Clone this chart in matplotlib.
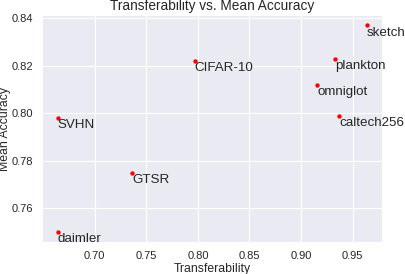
import matplotlib
matplotlib.use("Agg")
import matplotlib.pyplot as plt
import seaborn as sns

sns.set_style("darkgrid")
plt.rcParams['font.family'] = ['Liberation Sans', 'DejaVu Sans']

names = ["sketch", "plankton", "CIFAR-10", "omniglot", "caltech256", "SVHN", "GTSR", "daimler"]
transferability = [0.964, 0.933, 0.797, 0.916, 0.937, 0.664, 0.736, 0.664]
mean_accuracy = [0.837, 0.823, 0.822, 0.812, 0.799, 0.798, 0.775, 0.750]

fig = plt.figure(figsize=(4.06, 2.74), dpi=100)
ax = fig.add_axes([0.104, 0.116, 0.838, 0.829])
ax.scatter(transferability, mean_accuracy, color="red", s=10, zorder=3, linewidths=0)
for n, x, y in zip(names, transferability, mean_accuracy):
    ax.annotate(n, (x, y), xytext=(0, -1), textcoords="offset points",
                ha="left", va="top", fontsize=9.6, color="#262626")
ax.set_xlabel("Transferability", fontsize=8.8, color="#262626", labelpad=1)
ax.set_ylabel("Mean Accuracy", fontsize=8.8, color="#262626", labelpad=0.5)
ax.set_title("Transferability vs. Mean Accuracy", fontsize=9.8, color="#262626", pad=3.6)
ax.tick_params(axis="both", labelsize=8, colors="#262626", pad=3)
ax.set_xticks([0.70, 0.75, 0.80, 0.85, 0.90, 0.95])
ax.set_yticks([0.76, 0.78, 0.80, 0.82, 0.84])
fig.savefig("out.png", dpi=100)
